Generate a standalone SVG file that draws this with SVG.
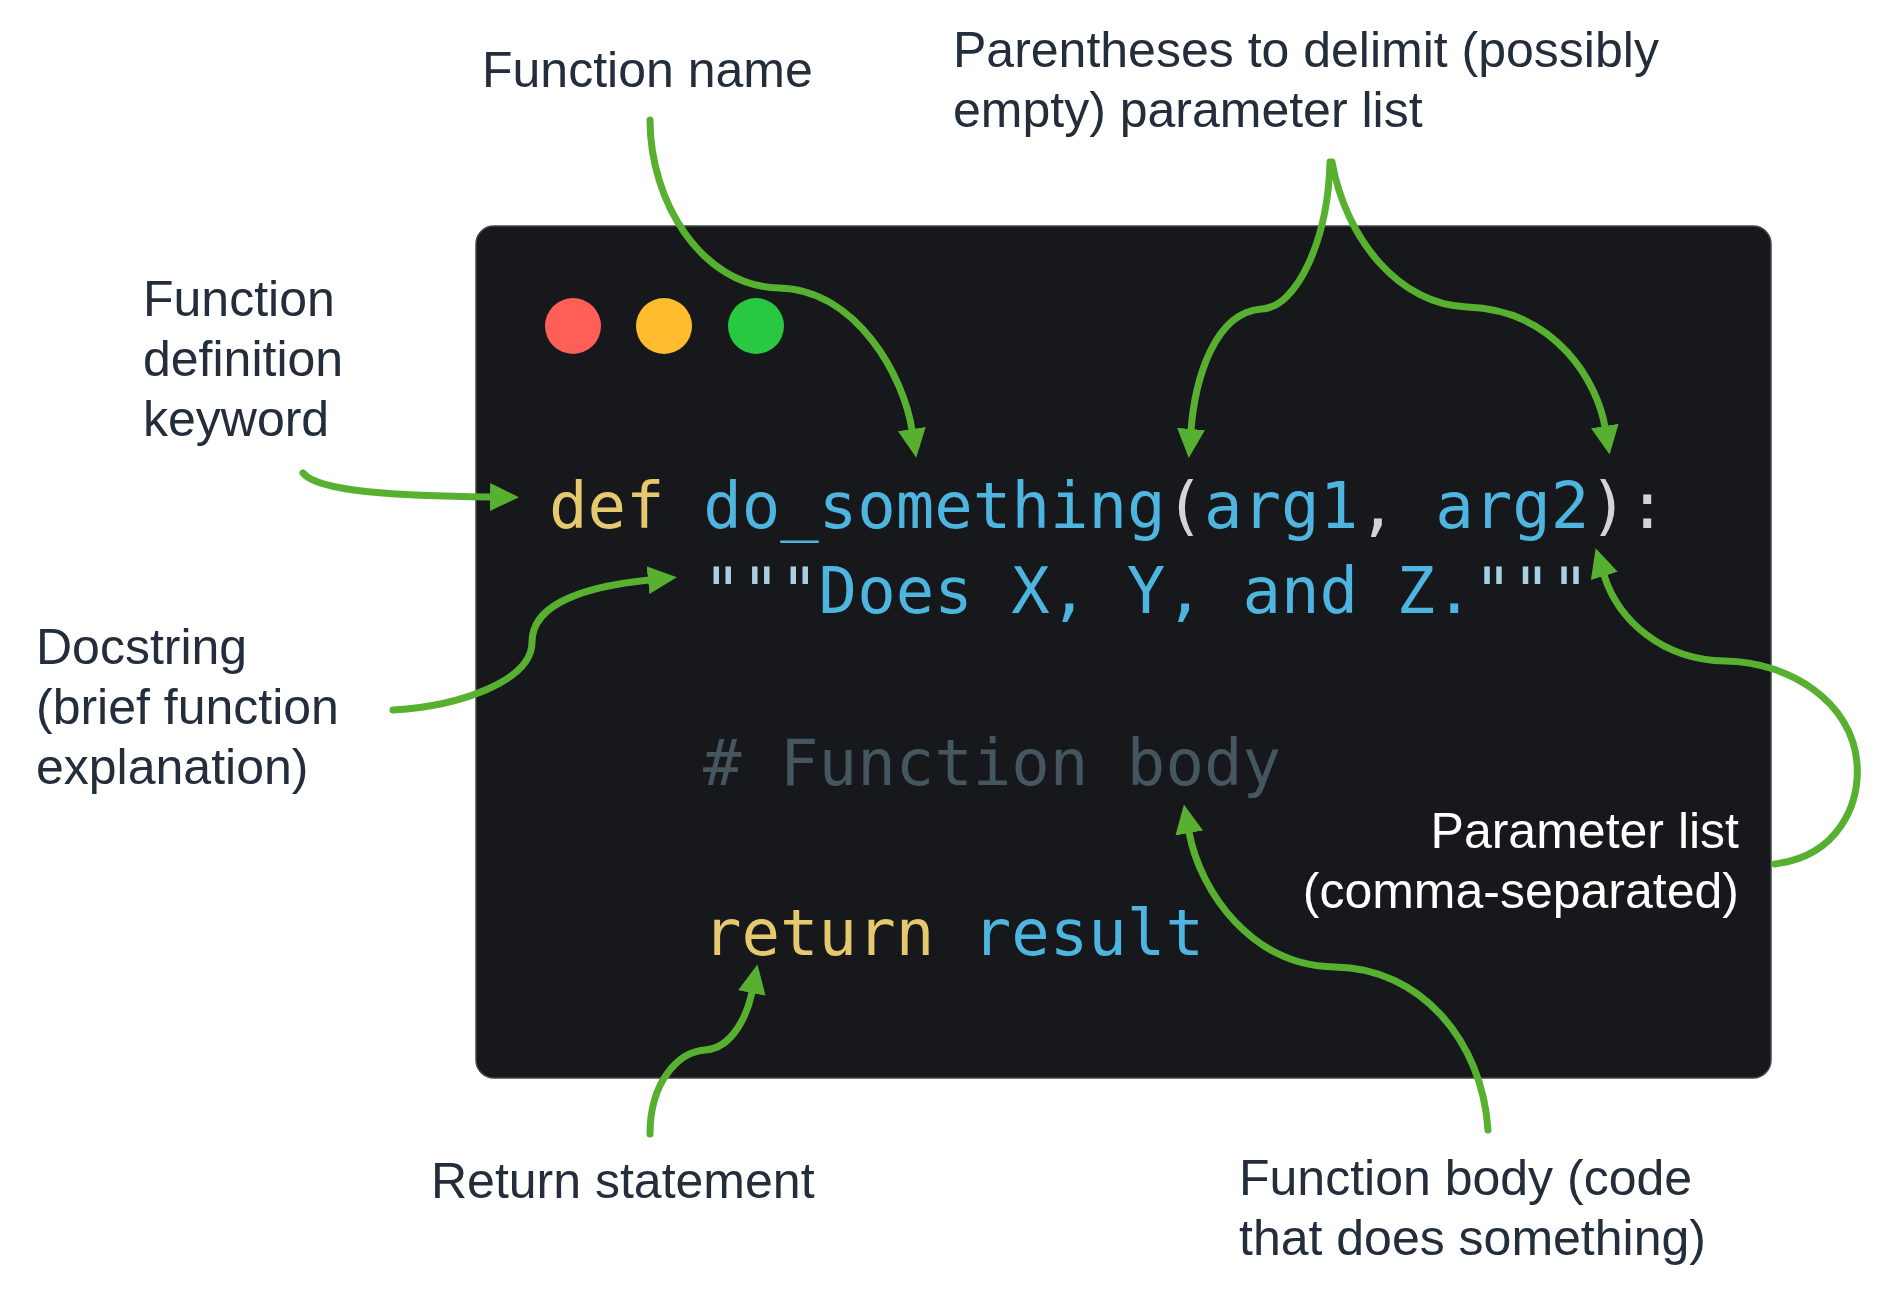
<svg xmlns="http://www.w3.org/2000/svg" width="1879" height="1301" viewBox="0 0 1879 1301">
  <style>
    .lbl { font-family: "Liberation Sans", Arial, sans-serif; font-size: 50px; fill: #232d3b; }
    .lblw { font-family: "Liberation Sans", Arial, sans-serif; font-size: 50px; fill: #ffffff; }
    .code { font-family: "DejaVu Sans Mono", "Liberation Mono", monospace; font-size: 64px; }
    .kw { fill: #e6c86e; }
    .id { fill: #4db5df; }
    .pu { fill: #d4d4d4; }
    .q { fill: #a8cfe2; }
    .cm { fill: #46565f; }
    .arrow { fill: none; stroke: #58b030; stroke-width: 7; stroke-linecap: round; marker-end: url(#ah); }
  </style>
  <defs>
    <marker id="ah" markerUnits="userSpaceOnUse" markerWidth="34" markerHeight="34" viewBox="0 -17 34 34" refX="1" refY="0" orient="auto">
      <path d="M0,-14 L29,0 L0,14 Z" fill="#58b030"/>
    </marker>
  </defs>
  <rect width="1879" height="1301" fill="#ffffff"/>

  <g id="window">
    <rect x="476" y="226" width="1295" height="852" rx="18" ry="18" fill="#16181b" stroke="#44464a" stroke-width="1.5"/>
    <circle cx="573" cy="326" r="28" fill="#ff5f57"/>
    <circle cx="664" cy="326" r="28" fill="#febc2e"/>
    <circle cx="756" cy="326" r="28" fill="#28c840"/>
  </g>

  <g id="code">
    <text class="code" x="549" y="528" xml:space="preserve"><tspan class="kw">def</tspan> <tspan class="id">do_something</tspan><tspan class="pu">(</tspan><tspan class="id">arg1</tspan><tspan class="pu">,</tspan> <tspan class="id">arg2</tspan><tspan class="pu">):</tspan></text>
    <text class="code" x="703" y="613" xml:space="preserve"><tspan class="q">"""</tspan><tspan class="id">Does X, Y, and Z.</tspan><tspan class="q">"""</tspan></text>
    <text class="code cm" x="703" y="785" xml:space="preserve"># Function body</text>
    <text class="code" x="703" y="955" xml:space="preserve"><tspan class="kw">return</tspan> <tspan class="id">result</tspan></text>
  </g>

  <g id="label-function-name">
    <text class="lbl" x="482" y="87">Function name</text>
  </g>
  <g id="label-parentheses">
    <text class="lbl" x="953" y="67">Parentheses to delimit (possibly</text>
    <text class="lbl" x="953" y="127">empty) parameter list</text>
  </g>
  <g id="label-def-keyword">
    <text class="lbl" x="143" y="316">Function</text>
    <text class="lbl" x="143" y="376">definition</text>
    <text class="lbl" x="143" y="436">keyword</text>
  </g>
  <g id="label-docstring">
    <text class="lbl" x="36" y="664">Docstring</text>
    <text class="lbl" x="36" y="724">(brief function</text>
    <text class="lbl" x="36" y="784">explanation)</text>
  </g>
  <g id="label-parameter-list">
    <text class="lblw" x="1739" y="848" text-anchor="end">Parameter list</text>
    <text class="lblw" x="1739" y="908" text-anchor="end">(comma-separated)</text>
  </g>
  <g id="label-return">
    <text class="lbl" x="431" y="1198">Return statement</text>
  </g>
  <g id="label-function-body">
    <text class="lbl" x="1239" y="1195">Function body (code</text>
    <text class="lbl" x="1239" y="1255">that does something)</text>
  </g>

  <g id="connectors">
    <path class="arrow" d="M650,120 C650,200 700,286 779,288 C858,290 904,378 912,430"/>
    <path class="arrow" d="M303,473 C318,492 400,496 491,497"/>
    <path class="arrow" d="M393,710 C462,706 532,680 532,642 C532,602 590,586 649,580"/>
    <path class="arrow" d="M1330,162 C1328,240 1297,307 1262,309 C1214,312 1195,380 1191,430"/>
    <path class="arrow" d="M1332,162 C1346,240 1400,305 1467,307 C1558,310 1598,385 1605,427"/>
    <path class="arrow" d="M1775,864 C1838,856 1860,805 1857,763 C1852,702 1790,662 1725,661 C1662,660 1618,620 1604,575"/>
    <path class="arrow" d="M1488,1130 C1482,1040 1420,968 1335,967 C1252,966 1200,892 1189,832"/>
    <path class="arrow" d="M650,1134 C650,1082 678,1052 705,1050 C734,1048 748,1012 752,992"/>
  </g>
</svg>
